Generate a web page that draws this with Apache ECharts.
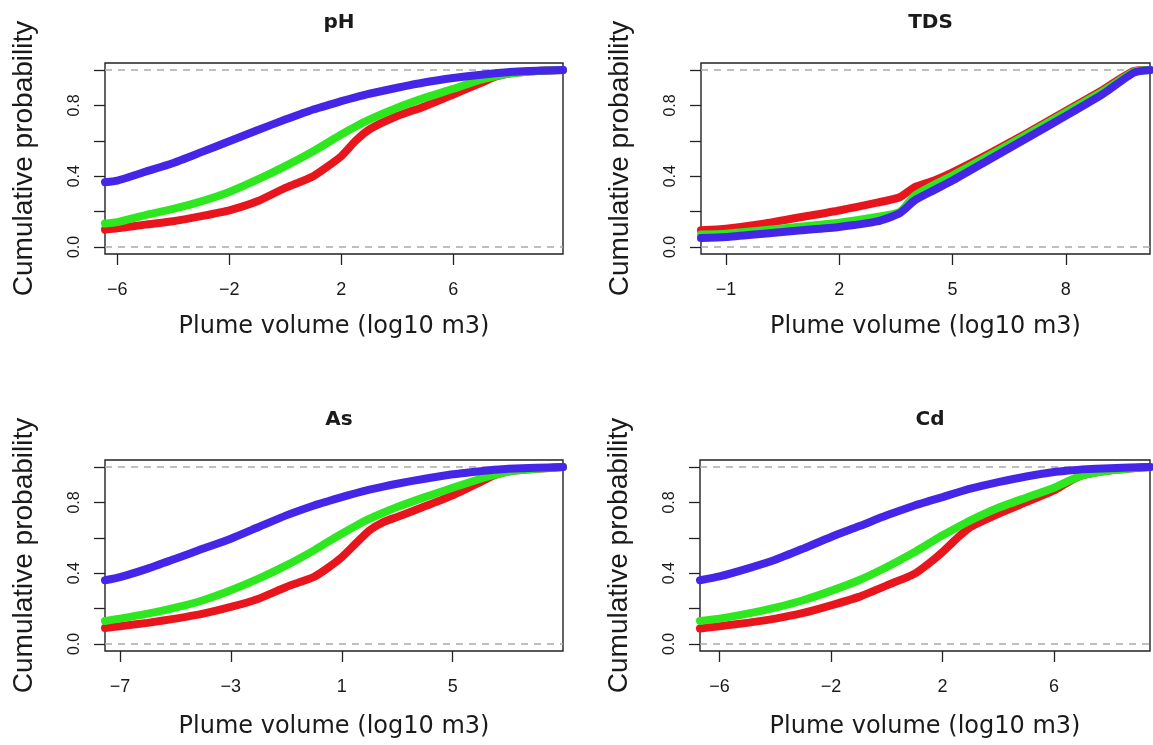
<!DOCTYPE html>
<html><head><meta charset="utf-8">
<script src="https://cdn.jsdelivr.net/npm/echarts@6/dist/echarts.min.js"></script>
<style>html,body{margin:0;padding:0;background:#fff}#c{width:1153px;height:745px}</style>
</head><body><div id="c"></div>
<script>
// ---- data ----
const panelTitles = ['pH', 'TDS', 'As', 'Cd'];
const xTitle = 'Plume volume (log10 m3)';
const yTitle = 'Cumulative probability';
const yTickValues = [0, 0.2, 0.4, 0.6, 0.8, 1];
const yLabelValues = [0, 0.4, 0.8];

const phTicks = [-6, -2, 2, 6];
const phX     = [-6.44, -6, -5, -4, -3, -2, -1, 0, 1, 2, 2.5, 3, 4, 5, 6, 7, 7.5, 8, 9, 9.92];
const phRed   = [0.098, 0.105, 0.126, 0.145, 0.174, 0.207, 0.258, 0.334, 0.40, 0.513, 0.598, 0.664, 0.74, 0.796, 0.862, 0.928, 0.962, 0.981, 0.995, 1.0];
const phGreen = [0.132, 0.14, 0.18, 0.215, 0.258, 0.311, 0.38, 0.457, 0.541, 0.636, 0.68, 0.72, 0.787, 0.844, 0.894, 0.947, 0.965, 0.981, 0.995, 1.0];
const phBlue  = [0.366, 0.375, 0.425, 0.475, 0.536, 0.598, 0.66, 0.72, 0.777, 0.824, 0.846, 0.866, 0.90, 0.931, 0.955, 0.974, 0.982, 0.989, 0.996, 1.0];

const tdsTicks = [-1, 2, 5, 8];
const tdsX     = [-1.66, -1, 0, 1, 2, 3, 3.6, 4, 4.5, 5, 6, 7, 8, 9, 9.8, 10.23];
const tdsRed   = [0.094, 0.103, 0.131, 0.169, 0.206, 0.25, 0.281, 0.338, 0.375, 0.422, 0.531, 0.647, 0.769, 0.891, 0.994, 1.0];
const tdsGreen = [0.07, 0.075, 0.094, 0.116, 0.137, 0.169, 0.197, 0.29, 0.35, 0.403, 0.52, 0.638, 0.76, 0.882, 0.99, 1.0];
const tdsBlue  = [0.05, 0.056, 0.075, 0.094, 0.113, 0.144, 0.19, 0.263, 0.32, 0.375, 0.497, 0.619, 0.741, 0.867, 0.985, 1.0];

const asTicks = [-7, -3, 1, 5];
const asX     = [-7.54, -7, -6, -5, -4, -3, -2, -1, 0, 0.5, 1, 1.5, 2, 2.5, 3, 4, 5, 6, 6.5, 7, 8, 8.98];
const asRed   = [0.09, 0.10, 0.119, 0.143, 0.171, 0.209, 0.256, 0.322, 0.379, 0.43, 0.49, 0.567, 0.642, 0.689, 0.718, 0.778, 0.84, 0.915, 0.953, 0.975, 0.99, 1.0];
const asGreen = [0.13, 0.143, 0.171, 0.205, 0.247, 0.303, 0.369, 0.444, 0.529, 0.577, 0.623, 0.667, 0.708, 0.742, 0.774, 0.83, 0.883, 0.934, 0.956, 0.975, 0.99, 1.0];
const asBlue  = [0.36, 0.378, 0.426, 0.482, 0.539, 0.595, 0.661, 0.727, 0.783, 0.807, 0.83, 0.852, 0.872, 0.89, 0.906, 0.934, 0.959, 0.977, 0.985, 0.991, 0.996, 1.0];

const cdTicks = [-6, -2, 2, 6];
const cdX     = [-6.70, -6, -5, -4, -3, -2, -1, 0, 1, 1.5, 2, 2.5, 3, 4, 5, 6, 6.5, 7, 8, 9.44];
const cdRed   = [0.087, 0.10, 0.119, 0.143, 0.175, 0.218, 0.266, 0.331, 0.397, 0.454, 0.52, 0.595, 0.661, 0.736, 0.802, 0.868, 0.915, 0.953, 0.981, 1.0];
const cdGreen = [0.13, 0.143, 0.171, 0.205, 0.247, 0.30, 0.36, 0.435, 0.52, 0.567, 0.614, 0.657, 0.699, 0.77, 0.827, 0.883, 0.92, 0.953, 0.981, 1.0];
const cdBlue  = [0.36, 0.382, 0.426, 0.476, 0.539, 0.605, 0.665, 0.727, 0.783, 0.807, 0.83, 0.855, 0.878, 0.915, 0.947, 0.972, 0.98, 0.987, 0.994, 1.0];

// ---- layout / style ----
const panels = [
  { title: panelTitles[0], ticks: phTicks,  x: phX,  ys: [phRed, phGreen, phBlue] },
  { title: panelTitles[1], ticks: tdsTicks, x: tdsX, ys: [tdsRed, tdsGreen, tdsBlue] },
  { title: panelTitles[2], ticks: asTicks,  x: asX,  ys: [asRed, asGreen, asBlue] },
  { title: panelTitles[3], ticks: cdTicks,  x: cdX,  ys: [cdRed, cdGreen, cdBlue] }
];
const gridBoxes = [
  { left: 105, top: 63,  width: 458, height: 191 },
  { left: 701, top: 63,  width: 449, height: 191 },
  { left: 105, top: 460, width: 458, height: 191 },
  { left: 700, top: 460, width: 450, height: 191 }
];
const xNameGaps = [61, 61, 64, 64];
const colors = ['#e8161c', '#2de81f', '#4526e8'];
const textColor = '#1a1a1a';

const fmtX = v => (v < 0 ? '\u2212' + Math.abs(v) : String(v));

const option = {
  backgroundColor: '#fff',
  animation: false,
  title: [], grid: [], xAxis: [], yAxis: [], series: []
};

panels.forEach((p, i) => {
  const g = gridBoxes[i];
  option.grid.push(Object.assign({ show: true, borderColor: '#222', borderWidth: 1.4, backgroundColor: '#fff' }, g));
  option.title.push({
    text: p.title, left: g.left + g.width / 2, top: g.top - 55, textAlign: 'center',
    textStyle: { fontFamily: 'DejaVu Sans', fontWeight: 'bold', fontSize: 20, color: textColor }
  });
  option.xAxis.push({
    type: 'value', gridIndex: i, min: p.x[0], max: p.x[p.x.length - 1],
    name: xTitle, nameLocation: 'middle', nameGap: xNameGaps[i],
    nameTextStyle: { fontFamily: 'DejaVu Sans', fontSize: 24, color: textColor },
    axisLine: { show: false, onZero: false }, splitLine: { show: false },
    axisTick: { show: true, customValues: p.ticks, length: 11, lineStyle: { color: '#222', width: 1.3 } },
    axisLabel: { customValues: p.ticks, formatter: fmtX, margin: 27,
      fontFamily: 'Liberation Sans', fontSize: 18, color: textColor }
  });
  option.yAxis.push({
    type: 'value', gridIndex: i, min: -0.04, max: 1.04,
    name: yTitle, nameLocation: 'middle', nameGap: 67,
    nameTextStyle: { fontFamily: 'Liberation Sans', fontSize: 28, color: textColor },
    axisLine: { show: false, onZero: false }, splitLine: { show: false },
    axisTick: { show: true, customValues: yTickValues, length: 11, lineStyle: { color: '#222', width: 1.3 } },
    axisLabel: { customValues: yLabelValues, formatter: v => v.toFixed(1), rotate: 90, margin: 22,
      fontFamily: 'Liberation Sans', fontSize: 16, color: textColor }
  });
  p.ys.forEach((ys, k) => {
    const s = {
      type: 'line', xAxisIndex: i, yAxisIndex: i,
      data: p.x.map((xv, j) => [xv, ys[j]]),
      showSymbol: false, symbol: 'none',
      smooth: 0.2,
      lineStyle: { color: colors[k], width: 8, cap: 'round', join: 'round' },
      itemStyle: { color: colors[k] },
      z: 3 + k
    };
    if (k === 0) {
      s.markLine = {
        silent: true, symbol: 'none', label: { show: false }, z: 1,
        lineStyle: { color: '#aaaaaa', type: [7, 6], width: 1.6 },
        data: [{ yAxis: 0 }, { yAxis: 1 }]
      };
    }
    option.series.push(s);
  });
});

const chart = echarts.init(document.getElementById('c'), null, { renderer: 'canvas' });
chart.setOption(option);
</script>
</body></html>
